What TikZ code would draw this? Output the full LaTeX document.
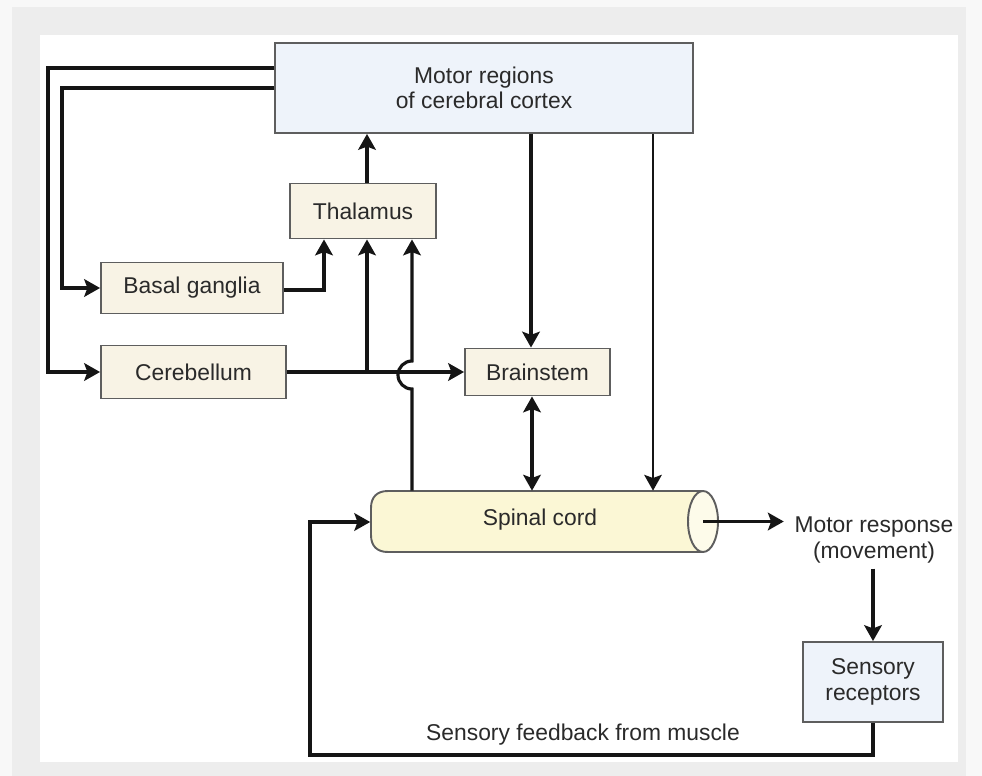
\documentclass[tikz,border=0pt]{standalone}
\usepackage{fontspec}
\setmainfont{Liberation Sans}
\usetikzlibrary{arrows.meta}
\definecolor{bgout}{HTML}{F8F8F8}
\definecolor{bgband}{HTML}{EDEDED}
\definecolor{boxc}{HTML}{5E5E5E}
\definecolor{cream}{HTML}{F8F3E5}
\definecolor{bluef}{HTML}{EEF3FA}
\definecolor{cordf}{HTML}{FBF7D5}
\definecolor{cordend}{HTML}{FDFBEA}
\definecolor{txt}{HTML}{2A2A2A}
\definecolor{ln}{HTML}{151515}
\begin{document}
\begin{tikzpicture}[x=0.02cm,y=-0.02cm,
  Ar/.tip={Stealth[length=9pt,width=10pt,inset=1.8pt]},
  every node/.style={text=txt, font=\fontsize{13}{14.5}\selectfont},
  box/.style={draw=boxc, line width=1.1pt, inner sep=0pt, align=center},
  cbox/.style={box, fill=cream},
  bbox/.style={box, fill=bluef},
  arr/.style={draw=ln, line width=1.8pt, -Ar},
  thinarr/.style={draw=ln, line width=1.1pt, -Ar}
]
\useasboundingbox (0,0) rectangle (982,776);
\fill[bgout] (0,0) rectangle (982,776);
\fill[bgband] (12,7) rectangle (966,776);
\fill[white] (40,35) rectangle (958,762);

% nodes
\node[bbox, minimum width=8.36cm, minimum height=1.8cm] (motor) at (484,88)
  {Motor regions\\of cerebral cortex};
\node[cbox, minimum width=2.92cm, minimum height=1.1cm] (thal) at (363,211) {Thalamus};
\node[cbox, minimum width=3.64cm, minimum height=1.02cm] (basal) at (192,288) {Basal ganglia};
\node[cbox, minimum width=3.7cm, minimum height=1.06cm] (cereb) at (193.5,372) {Cerebellum};
\node[cbox, minimum width=2.9cm, minimum height=0.94cm] (brain) at (537.5,372) {Brainstem};
\node[bbox, minimum width=2.8cm, minimum height=1.6cm] (sens) at (873,682) {Sensory\\receptors};

% spinal cord cylinder
\draw[draw=boxc, line width=1.1pt, fill=cordf]
  (703,491) -- (388,491) .. controls (377,491) and (371,497) .. (371,508)
  -- (371,535) .. controls (371,546) and (377,552) .. (388,552) -- (703,552) -- cycle;
\draw[draw=boxc, line width=1.1pt, fill=cordend] (703,521.5) ellipse [x radius=15, y radius=30.5];
\node[inner sep=0pt, minimum width=6.94cm, minimum height=1.22cm] (sc) at (544,521.5) {};
\node at (540,520) {Spinal cord};
\coordinate (scend) at (703,521.5);

\node[align=center, inner xsep=6pt, inner ysep=3pt] (mresp) at (874,540) {Motor response\\(movement)};
\node (fb) at (583,735) {Sensory feedback from muscle};

% connectors
\draw[arr] (motor.west |- 0,68) -- (48,68) |- (cereb.west);
\draw[arr] (motor.west |- 0,88) -- (62,88) |- (basal.west);
\draw[arr] (thal.north -| 367,0) -- (motor.south -| 367,0);
\draw[arr] (basal.east |- 0,290) -| (thal.south -| 324,0);
\draw[arr] (cereb.east) -- (brain.west);
\draw[arr] (367,372) -- (thal.south -| 367,0);
\draw[arr] (sc.north -| 412,0) -- (412,389) arc[start angle=90, end angle=270, radius=14] -- (thal.south -| 412,0);
\draw[arr] (motor.south -| 531,0) -- (brain.north -| 531,0);
\draw[draw=ln, line width=1.8pt, Ar-Ar] (brain.south -| 532,0) -- (sc.north -| 532,0);
\draw[thinarr] (motor.south -| 653,0) -- (sc.north -| 653,0);
\draw[arr] (scend) -- (mresp.west |- scend);
\draw[arr] (mresp.south -| sens.north) -- (sens.north);
\draw[arr] (sens.south) -- (sens.south |- 0,755) -| (310,522) -- (sc.west |- 0,522);
\end{tikzpicture}
\end{document}
